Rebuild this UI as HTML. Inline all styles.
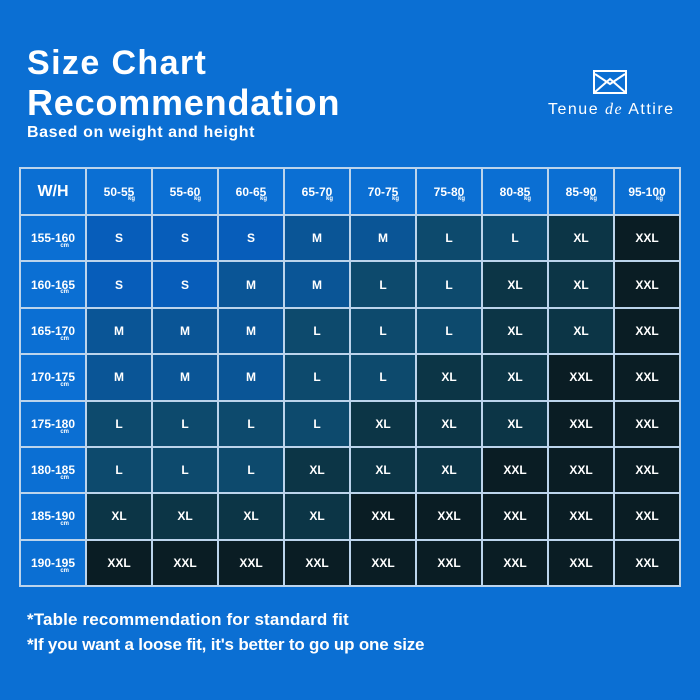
<!DOCTYPE html><html><head><style>
body{margin:0;width:700px;height:700px;background:#0b6fd3;font-family:"Liberation Sans",sans-serif;color:#fff;position:relative;overflow:hidden}
.t{position:absolute;left:27px;font-weight:bold;white-space:nowrap}
.g{position:absolute;left:19px;top:167px;width:658px;height:416px;padding:2px;background:#bcd4ec;display:grid;grid-template-columns:repeat(10,1fr);grid-template-rows:45px repeat(8,1fr);gap:2px}
.g div{display:flex;align-items:center;justify-content:center;font-weight:bold;font-size:12px;position:relative;background:#0b6fd3}
.g div span{position:absolute;font-size:6px;right:16px;top:27px}
.g div.w{font-size:16px}
.S{background:#075dba!important}.M{background:#0a5596!important}.L{background:#0d4a6d!important}.X{background:#0c3546!important}.Z{background:#0a1d24!important}
</style></head><body>
<div class="t" style="top:44px;font-size:34px;letter-spacing:1.4px">Size Chart</div>
<div class="t" style="top:82px;font-size:36px;letter-spacing:0.8px">Recommendation</div>
<div class="t" style="top:124px;font-size:16px;letter-spacing:0.6px">Based on weight and height</div>
<svg style="position:absolute;left:593px;top:70px" width="34" height="26"><rect x="1" y="1" width="32" height="22" fill="none" stroke="#fff" stroke-width="2"/><path d="M2 22 L17 9 L32 22 M2 4 L17 14 L32 4" fill="none" stroke="#fff" stroke-width="2"/></svg>
<div style="position:absolute;left:548px;top:101px;font-size:16px;letter-spacing:1.5px;white-space:nowrap">Tenue <i style="font-family:'Liberation Serif',serif">de</i> Attire</div>
<div class="g">
<div class="w">W/H</div><div>50-55<span>kg</span></div><div>55-60<span>kg</span></div><div>60-65<span>kg</span></div><div>65-70<span>kg</span></div><div>70-75<span>kg</span></div><div>75-80<span>kg</span></div><div>80-85<span>kg</span></div><div>85-90<span>kg</span></div><div>95-100<span>kg</span></div>
<div>155-160<span>cm</span></div><div class="S">S</div><div class="S">S</div><div class="S">S</div><div class="M">M</div><div class="M">M</div><div class="L">L</div><div class="L">L</div><div class="X">XL</div><div class="Z">XXL</div>
<div>160-165<span>cm</span></div><div class="S">S</div><div class="S">S</div><div class="M">M</div><div class="M">M</div><div class="L">L</div><div class="L">L</div><div class="X">XL</div><div class="X">XL</div><div class="Z">XXL</div>
<div>165-170<span>cm</span></div><div class="M">M</div><div class="M">M</div><div class="M">M</div><div class="L">L</div><div class="L">L</div><div class="L">L</div><div class="X">XL</div><div class="X">XL</div><div class="Z">XXL</div>
<div>170-175<span>cm</span></div><div class="M">M</div><div class="M">M</div><div class="M">M</div><div class="L">L</div><div class="L">L</div><div class="X">XL</div><div class="X">XL</div><div class="Z">XXL</div><div class="Z">XXL</div>
<div>175-180<span>cm</span></div><div class="L">L</div><div class="L">L</div><div class="L">L</div><div class="L">L</div><div class="X">XL</div><div class="X">XL</div><div class="X">XL</div><div class="Z">XXL</div><div class="Z">XXL</div>
<div>180-185<span>cm</span></div><div class="L">L</div><div class="L">L</div><div class="L">L</div><div class="X">XL</div><div class="X">XL</div><div class="X">XL</div><div class="Z">XXL</div><div class="Z">XXL</div><div class="Z">XXL</div>
<div>185-190<span>cm</span></div><div class="X">XL</div><div class="X">XL</div><div class="X">XL</div><div class="X">XL</div><div class="Z">XXL</div><div class="Z">XXL</div><div class="Z">XXL</div><div class="Z">XXL</div><div class="Z">XXL</div>
<div>190-195<span>cm</span></div><div class="Z">XXL</div><div class="Z">XXL</div><div class="Z">XXL</div><div class="Z">XXL</div><div class="Z">XXL</div><div class="Z">XXL</div><div class="Z">XXL</div><div class="Z">XXL</div><div class="Z">XXL</div>
</div>
<div class="t" style="top:610px;font-size:17px;letter-spacing:0.15px">*Table recommendation for standard fit</div>
<div class="t" style="top:635px;font-size:17px;letter-spacing:-0.2px">*If you want a loose fit, it's better to go up one size</div>
</body></html>
